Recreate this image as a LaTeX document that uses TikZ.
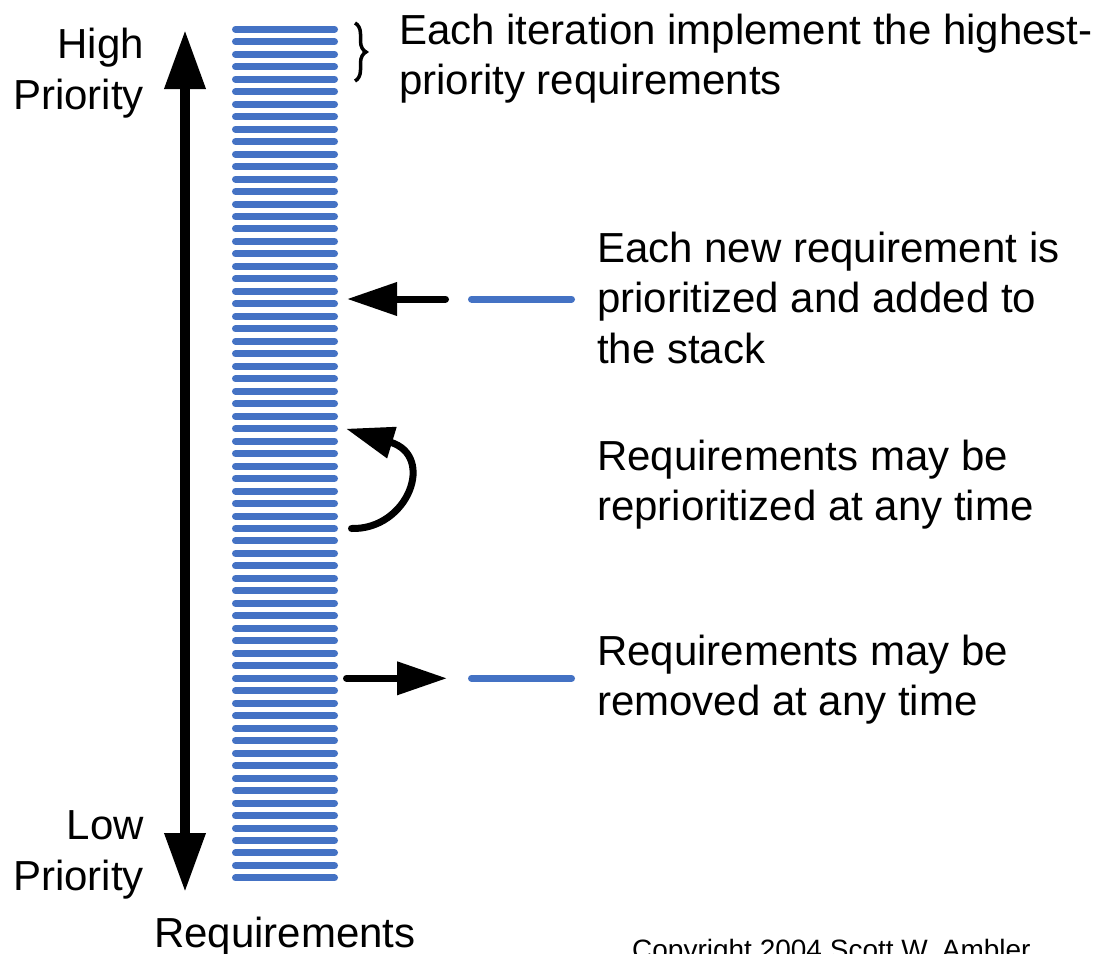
\documentclass[tikz,border=0pt]{standalone}
\usepackage{fontspec}
\setmainfont{Liberation Sans}
\usetikzlibrary{arrows.meta,decorations.pathreplacing}
\definecolor{reqblue}{HTML}{4472C4}
\begin{document}
\begin{tikzpicture}[x=1pt, y=-1pt,
    bar/.style={line width=7pt, line cap=round, reqblue},
    bigarrow/.style={line width=10pt, {Triangle[width=39pt,length=59pt]}-{Triangle[width=39pt,length=59pt]}},
    movearrow/.style={line width=7pt, line cap=round, -{Triangle[width=32pt,length=50pt]}},
    label/.style={inner sep=0pt, font=\fontsize{42}{50.5}\selectfont, align=left}]
  \useasboundingbox (0,0) rectangle (1099,953);
  % the stack
  \foreach \i in {0,...,68}
    \draw[bar] (235.5, {29.3+12.48*\i}) -- (334.5, {29.3+12.48*\i});
  % priority axis
  \coordinate (top) at (185,30);
  \coordinate (bottom) at (185,892);
  \draw[bigarrow] (bottom) -- (top);
  \node[label, anchor=base east, align=right] (high) at (144,109) {High\\Priority};
  \node[label, anchor=base east, align=right] (low) at (144,890) {Low\\Priority};
  \node[label, anchor=base west] (req) at (154,947) {Requirements};
  % highest priority
  \draw[decorate, decoration={brace, amplitude=11pt}, line width=3.5pt] (355,23) -- (355,81);
  \node[label, anchor=base west] (iter) at (399,94.5) {Each iteration implement the highest-\\priority requirements};
  % new requirement
  \coordinate (newtail) at (445.5,299);
  \coordinate (newtip) at (347,299);
  \coordinate (newl) at (471.5,299);
  \coordinate (newr) at (571.5,299);
  \draw[movearrow] (newtail) -- (newtip);
  \draw[bar] (newl) -- (newr);
  \node[label, anchor=base west] (newtext) at (597,363) {Each new requirement is\\prioritized and added to\\the stack};
  % reprioritize
  \coordinate (repfrom) at (351.5,528.5);
  \coordinate (repto) at (346,428.7);
  \draw[line width=7pt, line cap=round, -{Triangle[width=31pt,length=48pt]}]
    (repfrom) .. controls (408,530) and (436,456) .. (repto);
  \node[label, anchor=base west] (reptext) at (597,520.5) {Requirements may be\\reprioritized at any time};
  % removed requirement
  \coordinate (remtail) at (346.5,678.3);
  \coordinate (remtip) at (447,678.3);
  \coordinate (reml) at (471.5,678.3);
  \coordinate (remr) at (571.5,678.3);
  \draw[movearrow] (remtail) -- (remtip);
  \draw[bar] (reml) -- (remr);
  \node[label, anchor=base west] (remtext) at (597,715.5) {Requirements may be\\removed at any time};
  \node[inner sep=0pt, anchor=base west, font=\fontsize{28}{34}\selectfont] (copy) at (632,959) {Copyright 2004 Scott W. Ambler};
\end{tikzpicture}
\end{document}
